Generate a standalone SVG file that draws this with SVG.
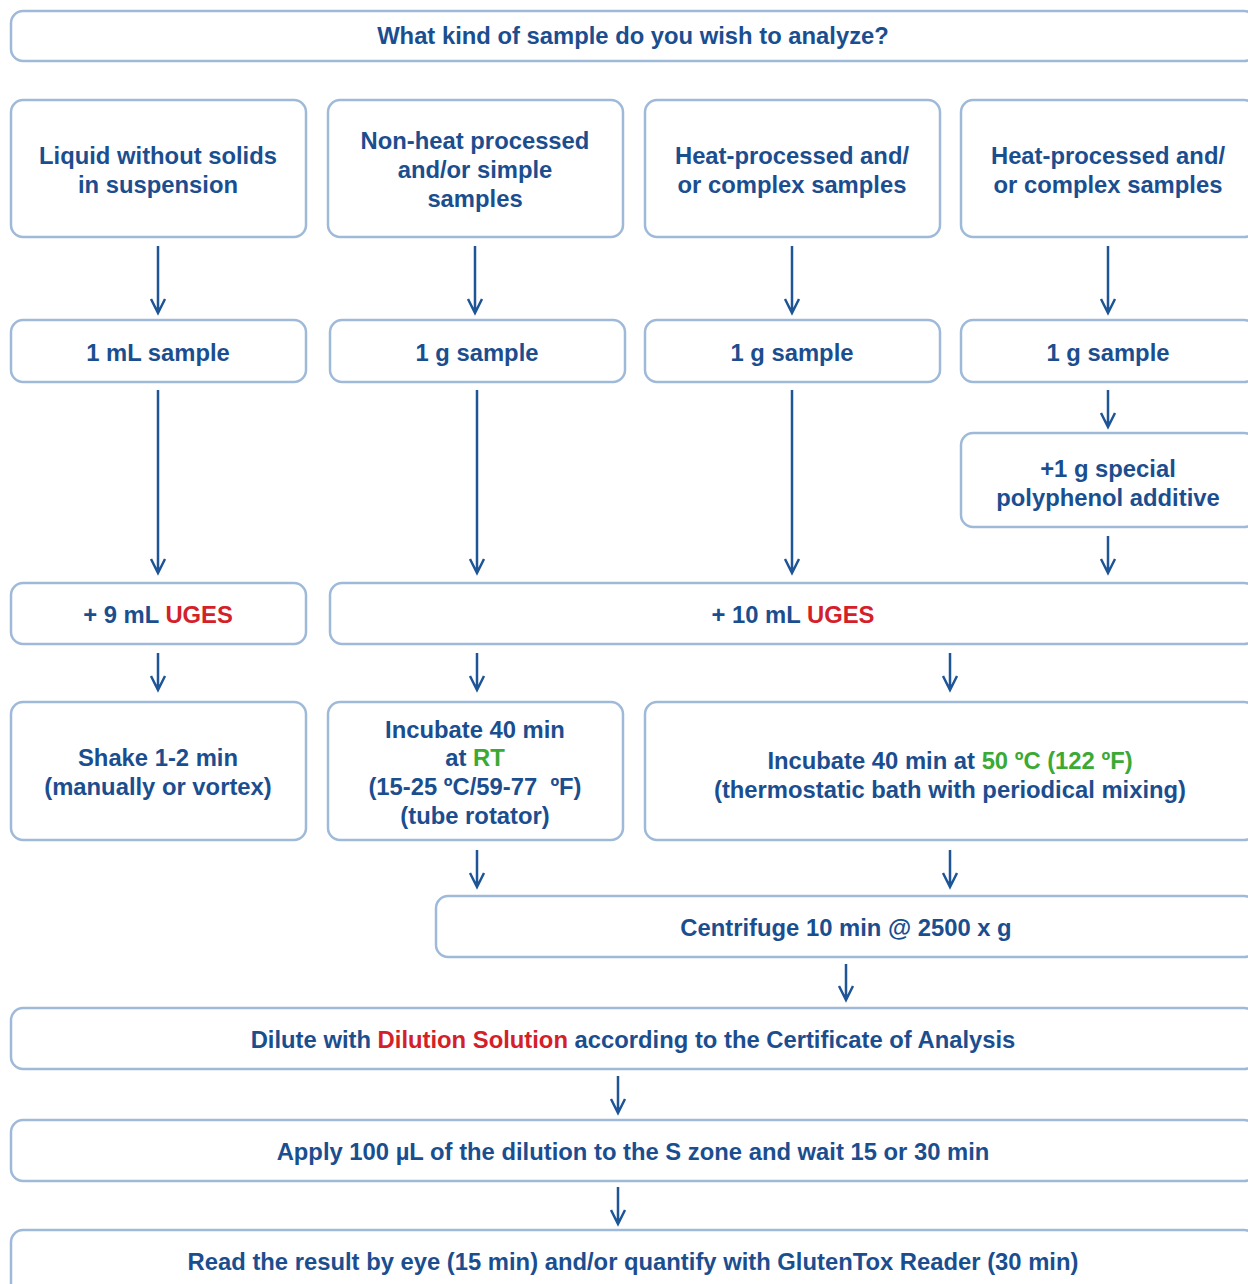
<svg xmlns="http://www.w3.org/2000/svg" width="1248" height="1284" viewBox="0 0 1248 1284">
<style>
.box{fill:#fff;stroke:#9fbad9;stroke-width:2.5}
text{font-family:"Liberation Sans",Arial,sans-serif;font-weight:bold;font-size:23.8px;fill:#1b4e8f;text-anchor:middle}
.r{fill:#d42029}
.g{fill:#3aaa35}
.c path{fill:none;stroke:#1d5597;stroke-width:2.5}
</style>
<rect width="1248" height="1284" fill="#fff"/>
<g id="q"><rect class="box" x="11" y="11" width="1245" height="50" rx="12"/><text x="633" y="44">What kind of sample do you wish to analyze?</text></g>
<g id="t1"><rect class="box" x="11" y="100" width="295" height="137" rx="12"/><text x="158" y="164">Liquid without solids</text><text x="158" y="193">in suspension</text></g>
<g id="t2"><rect class="box" x="328" y="100" width="295" height="137" rx="12"/><text x="475" y="149">Non-heat processed</text><text x="475" y="178">and/or simple</text><text x="475" y="207">samples</text></g>
<g id="t3"><rect class="box" x="645" y="100" width="295" height="137" rx="12"/><text x="792" y="164">Heat-processed and/</text><text x="792" y="193">or complex samples</text></g>
<g id="t4"><rect class="box" x="961" y="100" width="295" height="137" rx="12"/><text x="1108" y="164">Heat-processed and/</text><text x="1108" y="193">or complex samples</text></g>
<g id="s1"><rect class="box" x="11" y="320" width="295" height="62" rx="12"/><text x="158" y="361">1 mL sample</text></g>
<g id="s2"><rect class="box" x="330" y="320" width="295" height="62" rx="12"/><text x="477" y="361">1 g sample</text></g>
<g id="s3"><rect class="box" x="645" y="320" width="295" height="62" rx="12"/><text x="792" y="361">1 g sample</text></g>
<g id="s4"><rect class="box" x="961" y="320" width="295" height="62" rx="12"/><text x="1108" y="361">1 g sample</text></g>
<g id="add"><rect class="box" x="961" y="433" width="295" height="94" rx="12"/><text x="1108" y="477">+1 g special</text><text x="1108" y="506">polyphenol additive</text></g>
<g id="u9"><rect class="box" x="11" y="583" width="295" height="61" rx="12"/><text x="158" y="623">+ 9 mL <tspan class="r">UGES</tspan></text></g>
<g id="u10"><rect class="box" x="330" y="583" width="926" height="61" rx="12"/><text x="793" y="623">+ 10 mL <tspan class="r">UGES</tspan></text></g>
<g id="shake"><rect class="box" x="11" y="702" width="295" height="138" rx="12"/><text x="158" y="766">Shake 1-2 min</text><text x="158" y="795">(manually or vortex)</text></g>
<g id="rt"><rect class="box" x="328" y="702" width="295" height="138" rx="12"/><text x="475" y="738">Incubate 40 min</text><text x="475" y="766">at <tspan class="g">RT</tspan></text><text x="475" y="795">(15-25 ºC/59-77&#160; ºF)</text><text x="475" y="824">(tube rotator)</text></g>
<g id="inc50"><rect class="box" x="645" y="702" width="611" height="138" rx="12"/><text x="950" y="769">Incubate 40 min at <tspan class="g">50 ºC (122 ºF)</tspan></text><text x="950" y="798">(thermostatic bath with periodical mixing)</text></g>
<g id="cent"><rect class="box" x="436" y="896" width="820" height="61" rx="12"/><text x="846" y="936">Centrifuge 10 min @ 2500 x g</text></g>
<g id="dil"><rect class="box" x="11" y="1008" width="1245" height="61" rx="12"/><text x="633" y="1048">Dilute with <tspan class="r">Dilution Solution</tspan> according to the Certificate of Analysis</text></g>
<g id="apply"><rect class="box" x="11" y="1120" width="1245" height="61" rx="12"/><text x="633" y="1160">Apply 100 µL of the dilution to the S zone and wait 15 or 30 min</text></g>
<g id="read"><rect class="box" x="11" y="1230" width="1245" height="80" rx="12"/><text x="633" y="1270">Read the result by eye (15 min) and/or quantify with GlutenTox Reader (30 min)</text></g>
<g id="connectors" class="c">
<path d="M158 246V313M151 299L158 313L165 299"/>
<path d="M475 246V313M468 299L475 313L482 299"/>
<path d="M792 246V313M785 299L792 313L799 299"/>
<path d="M1108 246V313M1101 299L1108 313L1115 299"/>
<path d="M158 390V573M151 559L158 573L165 559"/>
<path d="M477 390V573M470 559L477 573L484 559"/>
<path d="M792 390V573M785 559L792 573L799 559"/>
<path d="M1108 390V427M1101 413L1108 427L1115 413"/>
<path d="M1108 536V573M1101 559L1108 573L1115 559"/>
<path d="M158 653V690M151 676L158 690L165 676"/>
<path d="M477 653V690M470 676L477 690L484 676"/>
<path d="M950 653V690M943 676L950 690L957 676"/>
<path d="M477 850V887M470 873L477 887L484 873"/>
<path d="M950 850V887M943 873L950 887L957 873"/>
<path d="M846 964V1000M839 986L846 1000L853 986"/>
<path d="M618 1076V1113M611 1099L618 1113L625 1099"/>
<path d="M618 1187V1224M611 1210L618 1224L625 1210"/>
</g>
</svg>
